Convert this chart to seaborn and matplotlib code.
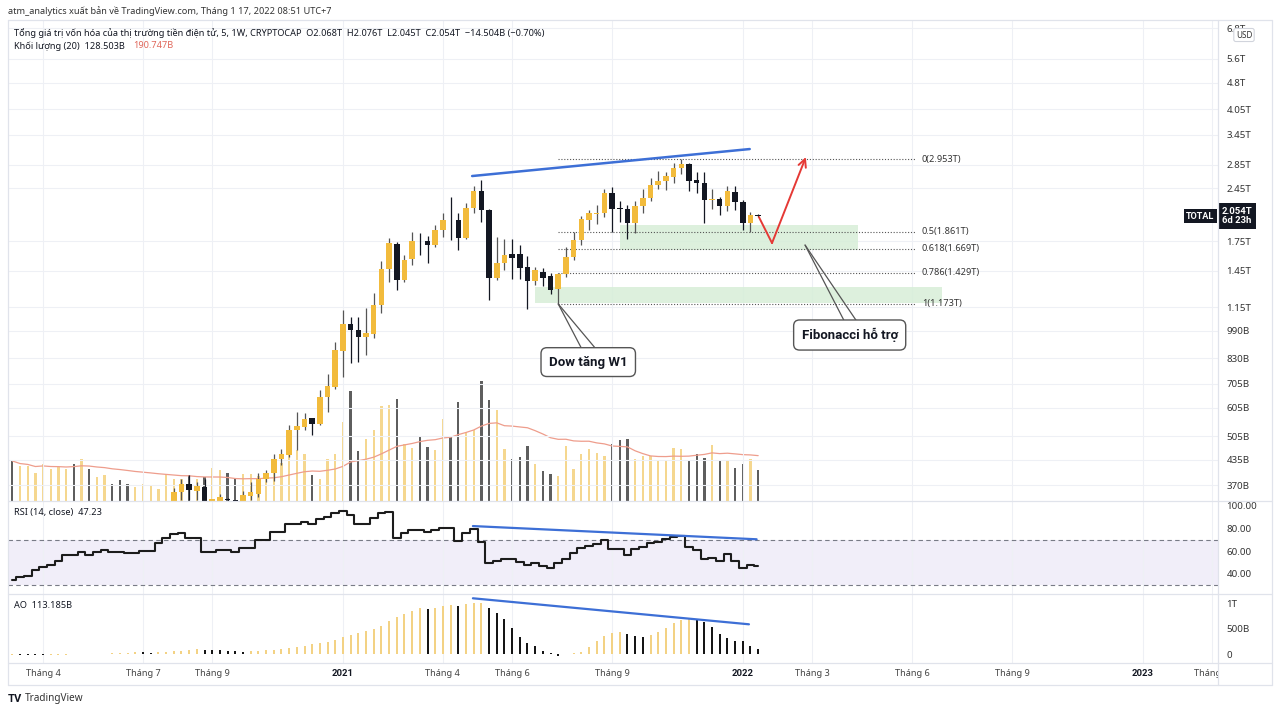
"""
TOTAL crypto market cap, weekly (TradingView snapshot, 17 Jan 2022).
Candles + volume, RSI(14) and Awesome Oscillator panes.
"""

import numpy as np
import pandas as pd
import matplotlib
matplotlib.use('Agg')
import matplotlib.pyplot as plt
import matplotlib.transforms as mtransforms
from matplotlib.lines import Line2D
from matplotlib.patches import Rectangle
from matplotlib.ticker import FixedLocator, FuncFormatter, NullLocator
import seaborn as sns

start_date = '2020-03-09'

# weekly OHLC in trillions USD
opens = [0.245, 0.160, 0.172, 0.182, 0.194, 0.200, 0.218, 0.248, 0.262, 0.255,
         0.268, 0.262, 0.270, 0.278, 0.265, 0.262, 0.258, 0.262, 0.270, 0.278,
         0.300, 0.332, 0.355, 0.372, 0.357, 0.366, 0.325, 0.334, 0.339, 0.336,
         0.334, 0.345, 0.350, 0.385, 0.399, 0.436, 0.448, 0.525, 0.536, 0.566,
         0.547, 0.647, 0.690, 0.870, 1.032, 0.994, 0.950, 0.969, 1.162, 1.463,
         1.721, 1.366, 1.558, 1.756, 1.750, 1.707, 1.879, 2.009, 2.000, 1.791,
         2.165, 2.408, 2.134, 1.384, 1.520, 1.613, 1.612, 1.481, 1.360, 1.440,
         1.401, 1.288, 1.419, 1.585, 1.763, 2.002, 2.085, 2.090, 2.382, 2.160,
         2.150, 1.968, 2.189, 2.299, 2.502, 2.560, 2.630, 2.783, 2.860, 2.590,
         2.539, 2.280, 2.285, 2.189, 2.400, 2.250, 1.960, 2.068]
highs = [0.250, 0.185, 0.190, 0.200, 0.215, 0.225, 0.255, 0.272, 0.275, 0.275,
         0.280, 0.276, 0.282, 0.282, 0.275, 0.268, 0.266, 0.274, 0.282, 0.305,
         0.335, 0.363, 0.384, 0.395, 0.377, 0.385, 0.339, 0.350, 0.340, 0.336,
         0.357, 0.378, 0.399, 0.407, 0.451, 0.465, 0.543, 0.590, 0.585, 0.567,
         0.678, 0.751, 0.922, 1.132, 1.081, 1.077, 1.141, 1.255, 1.545, 1.782,
         1.744, 1.602, 1.858, 1.847, 1.808, 1.939, 2.090, 2.314, 2.098, 2.227,
         2.487, 2.583, 2.148, 1.793, 1.771, 1.771, 1.707, 1.592, 1.487, 1.472,
         1.426, 1.431, 1.689, 1.858, 2.054, 2.134, 2.203, 2.435, 2.475, 2.262,
         2.203, 2.262, 2.435, 2.611, 2.741, 2.723, 2.873, 2.953, 2.885, 2.723,
         2.723, 2.435, 2.322, 2.487, 2.487, 2.274, 2.111, 2.076]
lows = [0.130, 0.148, 0.165, 0.175, 0.185, 0.195, 0.212, 0.240, 0.240, 0.235,
        0.255, 0.255, 0.262, 0.258, 0.255, 0.252, 0.255, 0.258, 0.266, 0.275,
        0.298, 0.326, 0.336, 0.336, 0.336, 0.318, 0.310, 0.322, 0.320, 0.310,
        0.320, 0.336, 0.343, 0.378, 0.379, 0.420, 0.443, 0.463, 0.526, 0.509,
        0.543, 0.590, 0.681, 0.738, 0.807, 0.812, 0.847, 0.942, 1.109, 1.352,
        1.282, 1.352, 1.503, 1.602, 1.520, 1.689, 1.793, 1.763, 1.654, 1.770,
        2.090, 1.980, 1.203, 1.366, 1.456, 1.372, 1.372, 1.134, 1.323, 1.315,
        1.250, 1.173, 1.395, 1.552, 1.707, 1.879, 1.951, 2.045, 1.858, 1.980,
        1.770, 1.840, 2.098, 2.262, 2.435, 2.424, 2.529, 2.684, 2.410, 2.373,
        1.961, 2.143, 2.067, 2.125, 2.134, 1.879, 1.858, 2.045]
closes = [0.160, 0.172, 0.182, 0.194, 0.200, 0.218, 0.248, 0.262, 0.255, 0.268,
          0.262, 0.270, 0.278, 0.265, 0.262, 0.258, 0.262, 0.270, 0.278, 0.300,
          0.332, 0.355, 0.373, 0.358, 0.367, 0.333, 0.338, 0.342, 0.336, 0.326,
          0.347, 0.355, 0.385, 0.400, 0.437, 0.451, 0.526, 0.539, 0.563, 0.547,
          0.647, 0.695, 0.875, 1.032, 0.994, 0.948, 0.977, 1.165, 1.465, 1.730,
          1.366, 1.557, 1.756, 1.750, 1.710, 1.879, 2.008, 2.000, 1.791, 2.166,
          2.408, 2.134, 1.384, 1.520, 1.602, 1.569, 1.472, 1.360, 1.456, 1.381,
          1.282, 1.419, 1.585, 1.763, 2.010, 2.090, 2.098, 2.382, 2.143, 2.150,
          1.968, 2.189, 2.299, 2.502, 2.572, 2.648, 2.781, 2.862, 2.572, 2.539,
          2.274, 2.290, 2.189, 2.412, 2.250, 1.968, 2.067, 2.054]

# weekly volume, billions USD
volumes = [167, 145, 145, 117, 156, 131, 140, 131, 156, 177,
           135, 98, 107, 69, 87, 69, 56, 69, 61, 48,
           112, 91, 91, 107, 91, 99, 137, 128, 117, 89,
           112, 112, 103, 117, 116, 158, 198, 212, 195, 107,
           89, 177, 198, 330, 460, 208, 257, 298, 397, 403,
           425, 237, 223, 272, 226, 212, 342, 272, 414, 288,
           298, 502, 424, 379, 219, 177, 184, 230, 152, 124,
           112, 103, 229, 135, 195, 215, 202, 188, 237, 254,
           257, 173, 187, 187, 170, 170, 223, 216, 166, 198,
           181, 233, 166, 170, 138, 152, 177, 128.5]

rsi = [34.8, 37.1, 38.0, 43.5, 46.4, 47.8, 51.3, 56.5, 56.5, 58.9,
       56.5, 58.9, 60.9, 58.9, 58.9, 58.0, 58.0, 60.0, 60.0, 66.7,
       71.0, 74.5, 75.4, 71.0, 71.0, 58.9, 58.9, 60.9, 60.9, 58.9,
       62.9, 62.9, 69.6, 69.6, 76.2, 76.2, 83.5, 83.5, 85.5, 83.2,
       87.6, 89.8, 92.8, 94.8, 91.3, 83.2, 83.2, 88.4, 92.8, 94.2,
       71.0, 75.4, 78.3, 78.3, 76.2, 78.3, 80.3, 80.3, 69.0, 75.4,
       78.9, 68.1, 49.3, 51.6, 53.0, 53.0, 50.7, 47.8, 49.3, 47.2,
       45.0, 49.3, 53.0, 58.0, 62.3, 64.3, 65.8, 69.6, 61.5, 61.5,
       56.5, 61.5, 63.7, 66.7, 68.1, 70.2, 72.4, 73.0, 63.7, 60.9,
       52.8, 53.6, 51.3, 57.1, 51.3, 45.0, 47.8, 47.23]

# awesome oscillator, billions
ao = [-5, -8, -12, -15, -18, -14, -10, -6, -2, 2,
      6, 10, 14, 20, 26, 32, 40, 36, 32, 40,
      50, 62, 74, 86, 98, 92, 85, 78, 70, 60,
      48, 55, 65, 78, 92, 105, 118, 150, 170, 196,
      216, 235, 281, 346, 379, 425, 458, 490, 556, 654,
      739, 784, 856, 902, 882, 902, 948, 967, 954, 980,
      1000, 1013, 915, 817, 699, 510, 333, 216, 163, 72,
      20, -33, 7, 20, 52, 137, 261, 359, 425, 431,
      399, 359, 346, 379, 444, 510, 621, 673, 706, 693,
      627, 542, 399, 314, 268, 261, 163, 113.185]

price_ticks = [0.37, 0.435, 0.505, 0.605, 0.705, 0.83, 0.99, 1.15, 1.45, 1.75,
               2.45, 2.85, 3.45, 4.05, 4.8, 5.6, 6.8]
label_months = ['2020-04', '2020-07', '2020-09', '2021-01', '2021-04', '2021-06',
                '2021-09', '2022-01', '2022-03', '2022-06', '2022-09', '2023-01',
                '2023-03']

fib_high = 2.953
fib_low = 1.173
fib_ratios = [0, 0.5, 0.618, 0.786, 1]

W, H = 1280, 713
UP, DOWN = '#f2bb3c', '#131722'
VOL_UP, VOL_DN = '#f5d78f', '#5e5e5e'
AO_UP, AO_DN = '#f3d284', '#151515'
GRID = '#eef0f5'
TXT = '#131722'
BOLD_FONT = ['Roboto', 'DejaVu Sans']

sns.set_theme(style='white')
plt.rcParams['font.family'] = ['Noto Sans', 'DejaVu Sans']

o, h, l, c = (np.array(a, dtype=float) for a in (opens, highs, lows, closes))
n = len(c)
idx = np.arange(n)
up = c >= o
vol = pd.Series(volumes, dtype=float)
vol_ma = vol.rolling(20, min_periods=1).mean()

dates = pd.date_range(start_date, periods=160, freq='7D')
months = dates.to_period('M')
tick_pos, tick_lab = [], []
for m in label_months:
    p = pd.Period(m, 'M')
    tick_pos.append(int(np.argmax(months == p)))
    tick_lab.append(str(p.year) if p.month == 1 else f'Tháng {p.month}')

XL = (-0.56, 156.8)
LEFT, RIGHT = 8, 1218

def fx(px):
    return px / W

def fy(py):
    return 1 - py / H

def rect(top, bottom):
    return [fx(LEFT), fy(bottom), fx(RIGHT - LEFT), (bottom - top) / H]

fig = plt.figure(figsize=(W / 100, H / 100), dpi=100)
fig.patch.set_facecolor('white')

# ---- price pane ----
ax = fig.add_axes(rect(20, 500.7))
vax = ax.twinx()
ax.set_zorder(vax.get_zorder() + 1)
ax.patch.set_visible(False)

vax.bar(idx, vol, width=0.3, color=np.where(up, VOL_UP, VOL_DN), linewidth=0)
sns.lineplot(x=idx, y=vol_ma.values, ax=vax, color='#ee9d8c', lw=0.9)
vax.set_ylim(0, 2018)
vax.set_yticks([])
vax.set_ylabel('')

ax.set_yscale('log')
ax.set_xlim(*XL)
ax.set_ylim(0.335, 7.16)
for p in price_ticks:
    ax.axhline(p, color=GRID, lw=0.8, zorder=0)
for t in tick_pos:
    ax.axvline(t, color=GRID, lw=0.8, zorder=0)

body_lo = np.minimum(o, c)
body_hi = np.maximum(np.maximum(o, c), body_lo * 1.004)
ax.vlines(idx, l, h, color=np.where(up, '#555555', DOWN), lw=0.9, zorder=2)
ax.bar(idx, body_hi - body_lo, bottom=body_lo, width=0.72,
       color=np.where(up, UP, DOWN), linewidth=0, zorder=3)

# fibonacci retracement (log scale)
fib_start, fib_end = 71, 117.4
for r in fib_ratios:
    lvl = np.exp(np.log(fib_high) - r * (np.log(fib_high) - np.log(fib_low)))
    ax.hlines(lvl, fib_start, fib_end, colors='#555555', lw=0.8,
              linestyles=(0, (1, 1.6)), zorder=2)
    ax.text(fib_end + 0.9, lvl, f'{r:g}({lvl:.3f}T)', fontsize=6.6,
            color='#333333', va='center', ha='left')

# support zones
ax.add_patch(Rectangle((79, 1.654), 110 - 79, 1.939 - 1.654, color='#d7eed8',
                       alpha=0.85, lw=0, zorder=1))
ax.add_patch(Rectangle((68, 1.178), 120.9 - 68, 1.309 - 1.178, color='#d7eed8',
                       alpha=0.85, lw=0, zorder=1))

# trend line and projection arrow
ax.plot([59.8, 95.9], [2.650, 3.147], color='#3d6fd6', lw=1.8, zorder=4)
ax.plot([97.1, 98.8], [2.04, 1.729], color='#e53935', lw=1.4, zorder=4)
ax.annotate('', xy=(103.2, 2.99), xytext=(98.8, 1.729),
            arrowprops=dict(arrowstyle='->', color='#e53935', lw=1.4,
                            mutation_scale=14, shrinkA=0, shrinkB=0), zorder=4)

# callouts
for tip, feet in [((71, 1.173), [(74.0, 0.886), (75.8, 0.886)]),
                  ((103.1, 1.707), [(108.2, 1.052), (109.8, 1.052)])]:
    for fxp, fyp in feet:
        ax.plot([tip[0], fxp], [tip[1], fyp], color='#555555', lw=0.9, zorder=4)
box = dict(boxstyle='round,pad=0.6,rounding_size=0.45', fc='white', ec='#555555', lw=1)
ax.text(74.9, 0.810, 'Dow tăng W1', fontsize=9.5, weight='bold', color=TXT,
        family=BOLD_FONT, ha='center', va='center', bbox=box, zorder=5)
ax.text(108.9, 0.9625, 'Fibonacci hỗ trợ', fontsize=9.5, weight='bold', color=TXT,
        family=BOLD_FONT, ha='center', va='center', bbox=box, zorder=5)

ax.yaxis.tick_right()
ax.yaxis.set_major_locator(FixedLocator(price_ticks))
ax.yaxis.set_minor_locator(NullLocator())
ax.yaxis.set_major_formatter(FuncFormatter(
    lambda v, _: f'{v:g}T' if v >= 1 else f'{v * 1000:.0f}B'))
ax.tick_params(axis='y', length=0, pad=6, labelsize=7, labelcolor='#333333')
ax.set_xticks([])

# last price labels
bt = mtransforms.blended_transform_factory(ax.transAxes, ax.transData)
ax.text(1.003, c[-1], f'{c[-1]:.3f}T\n6d 23h', transform=bt, fontsize=6.8,
        color='white', weight='bold', family=BOLD_FONT, ha='left', va='center',
        linespacing=1.1, bbox=dict(boxstyle='square,pad=0.4', fc=DOWN, ec='none'),
        zorder=6, clip_on=False)
ax.text(0.9855, c[-1], 'TOTAL', transform=bt, fontsize=6.6, color='white',
        weight='bold', family=BOLD_FONT, ha='center', va='center',
        bbox=dict(boxstyle='square,pad=0.3', fc=DOWN, ec='none'), zorder=6)

# ---- RSI pane ----
rax = fig.add_axes(rect(501, 594))
rax.set_xlim(*XL)
rax.set_ylim(22.6, 103.5)
rax.axhspan(30, 70, color='#f1eef9', lw=0, zorder=0)
for t in tick_pos:
    rax.axvline(t, color=GRID, lw=0.8, zorder=0)
for lvl in (30, 70):
    rax.axhline(lvl, color='#787b86', lw=0.8, ls=(0, (4, 3)), zorder=1)
sns.lineplot(x=idx, y=rsi, ax=rax, drawstyle='steps-mid', color='#1c1c1c', lw=1.5)
rax.plot([59.9, 96.8], [81.7, 70.2], color='#3d6fd6', lw=1.6)
rax.yaxis.tick_right()
rax.set_yticks([40, 60, 80, 100])
rax.set_yticklabels(['40.00', '60.00', '80.00', '100.00'])
rax.tick_params(axis='y', length=0, pad=6, labelsize=7, labelcolor='#333333')
rax.set_xticks([])
rax.set_xlabel('')
rax.set_ylabel('')

# ---- AO pane ----
oax = fig.add_axes(rect(594, 663))
oax.set_xlim(*XL)
oax.set_ylim(-171, 1182)
for t in tick_pos:
    oax.axvline(t, color=GRID, lw=0.8, zorder=0)
ao_arr = np.array(ao, dtype=float)
ao_rising = np.r_[True, np.diff(ao_arr) >= 0]
oax.bar(idx, ao_arr, width=0.26, color=np.where(ao_rising, AO_UP, AO_DN), linewidth=0)
oax.plot([59.9, 95.8], [1098, 588], color='#3d6fd6', lw=1.6)
oax.yaxis.tick_right()
oax.set_yticks([0, 500, 1000])
oax.set_yticklabels(['0', '500B', '1T'])
oax.tick_params(axis='y', length=0, pad=6, labelsize=7, labelcolor='#333333')
oax.set_xticks([])

for a in (ax, vax, rax, oax):
    for s in a.spines.values():
        s.set_visible(False)

# ---- time axis strip ----
tax = fig.add_axes(rect(663, 685))
tax.set_xlim(*XL)
tax.set_ylim(0, 1)
tax.axis('off')
for pos, lab in zip(tick_pos, tick_lab):
    if lab.isdigit():
        tax.text(pos, 0.5, lab, ha='center', va='center', fontsize=6.8, color=TXT,
                 weight='bold', family=BOLD_FONT, clip_on=True)
    else:
        tax.text(pos, 0.5, lab, ha='center', va='center', fontsize=6.6,
                 color='#444444', clip_on=True)

# ---- frame lines ----
frame = '#e0e3eb'
for x0, y0, x1, y1 in [(LEFT, 20, 1272, 20), (LEFT, 685, 1272, 685),
                       (LEFT, 20, LEFT, 685), (1272, 20, 1272, 685),
                       (RIGHT, 20, RIGHT, 685), (LEFT, 501, 1272, 501),
                       (LEFT, 594, 1272, 594), (LEFT, 663, 1272, 663)]:
    fig.add_artist(Line2D([fx(x0), fx(x1)], [fy(y0), fy(y1)], color=frame, lw=0.9))

# ---- header / legends ----
fig.text(fx(8), fy(11), 'atm_analytics xuất bản về TradingView.com, Tháng 1 17, 2022 08:51 UTC+7',
         fontsize=6.6, color='#333333', va='center')
fig.text(fx(14), fy(33),
         'Tổng giá trị vốn hóa của thị trường tiền điện tử, 5, 1W, CRYPTOCAP  '
         'O2.068T  H2.076T  L2.045T  C2.054T  −14.504B (−0.70%)',
         fontsize=6.6, color=TXT, va='center')
fig.text(fx(14), fy(46), 'Khối lượng (20)  128.503B', fontsize=6.6, color=TXT, va='center')
fig.text(fx(133), fy(46), '190.747B', fontsize=6.6, color='#e0675a', va='center')
fig.text(fx(14), fy(512), 'RSI (14, close)  47.23', fontsize=6.6, color=TXT, va='center')
fig.text(fx(14), fy(606), 'AO  113.185B', fontsize=6.6, color=TXT, va='center')
fig.text(fx(1244), fy(35), 'USD', fontsize=5.8, color='#333333', ha='center', va='center',
         bbox=dict(boxstyle='round,pad=0.25', fc='white', ec='#d1d4dc', lw=0.8), zorder=10)
fig.text(fx(8), fy(699), 'TV', fontsize=8, weight='bold', family=BOLD_FONT,
         color=TXT, va='center')
fig.text(fx(25), fy(699), 'TradingView', fontsize=7.2, color='#333333', va='center')

fig.savefig('out.png', dpi=100)
